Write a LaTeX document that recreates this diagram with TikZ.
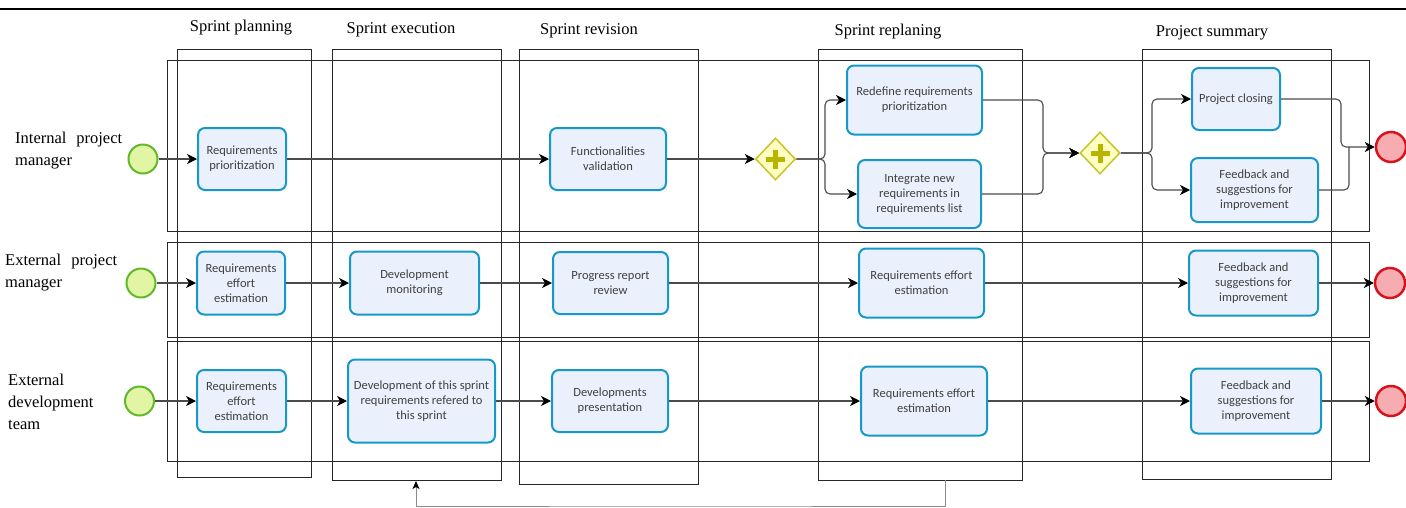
\documentclass[tikz,border=0pt]{standalone}
\usepackage{fontspec}
\setmainfont{Liberation Serif}
\newfontfamily\taskfont{Carlito}
\usetikzlibrary{arrows.meta,shapes.geometric}

\definecolor{taskline}{RGB}{22,152,200}
\definecolor{taskfill}{RGB}{234,241,252}
\definecolor{startline}{RGB}{95,185,40}
\definecolor{startfill}{RGB}{226,245,165}
\definecolor{endline}{RGB}{215,20,30}
\definecolor{endfill}{RGB}{246,172,176}
\definecolor{gateline}{RGB}{200,195,40}
\definecolor{gatefill}{RGB}{255,255,195}
\definecolor{gateplus}{RGB}{185,180,0}
\definecolor{flowline}{RGB}{75,75,75}

\tikzset{
  box/.style={draw=black!85, line width=0.9pt},
  phasetitle/.style={font=\fontsize{16.5}{20}\selectfont},
  lanelabel/.style={font=\fontsize{16.5}{22}\selectfont, align=left, inner sep=0pt, anchor=west},
  task/.style={draw=taskline, fill=taskfill, line width=2pt, rounded corners=7pt,
    align=center, inner sep=1pt, text=black!75,
    font={\taskfont\fontsize{12.5}{15}\selectfont}},
  startevent/.style={circle, draw=startline, fill=startfill, line width=2pt,
    minimum size=29pt, inner sep=0pt},
  endevent/.style={circle, draw=endline, fill=endfill, line width=2.5pt,
    minimum size=30pt, inner sep=0pt},
  gateway/.style={diamond, draw=gateline, fill=gatefill, line width=1.5pt,
    minimum width=40pt, minimum height=42pt, inner sep=0pt,
    path picture={
      \fill[gateplus] ([xshift=-9.5pt,yshift=-2.5pt]path picture bounding box.center) rectangle ++(19pt,5pt);
      \fill[gateplus] ([xshift=-2.5pt,yshift=-9.5pt]path picture bounding box.center) rectangle ++(5pt,19pt);
    }},
  flowplain/.style={draw=flowline, line width=1.1pt},
  flow/.style={flowplain, -{Stealth[length=10pt, width=10pt, inset=3pt, color=black]}},
  backflow/.style={draw=black!45, line width=1pt, -{Stealth[length=8pt, width=7pt, inset=2pt, color=black]}}
}

\begin{document}
\begin{tikzpicture}[x=1pt, y=-1pt]
\useasboundingbox (0,0) rectangle (1406,507);

% top rule
\draw[line width=2.5pt] (0,9) -- (1406,9);

% lanes
\draw[box] (167,60) rectangle (1369,231);
\draw[box] (167,242) rectangle (1369,337);
\draw[box] (167,341) rectangle (1369,461);

% phases
\draw[box] (177,49) rectangle (311,477);
\draw[box] (332,49) rectangle (501,480);
\draw[box] (519,49) rectangle (698,484);
\draw[box] (818,49) rectangle (1022,480);
\draw[box] (1142,49) rectangle (1331,479);

\node[phasetitle] (tplanning) at (241,28) {Sprint planning};
\node[phasetitle] (texecution) at (401,30) {Sprint execution};
\node[phasetitle] (trevision) at (589,31) {Sprint revision};
\node[phasetitle] (treplaning) at (888,32) {Sprint replaning};
\node[phasetitle] (tsummary) at (1212,33) {Project summary};

\node[lanelabel, text width=107pt] (lint) at (15,151) {Internal\hfill project\\manager};
\node[lanelabel, text width=112pt] (lext) at (5,273) {External\hfill project\\manager};
\node[lanelabel] (ldev) at (8,402) {External\\development\\team};

% internal project manager
\node[startevent] (start1) at (143,159) {};
\node[task, minimum width=88pt, minimum height=62pt] (reqprio) at (242,159) {Requirements\\prioritization};
\node[task, minimum width=116pt, minimum height=62pt] (funcval) at (608,159) {Functionalities\\validation};
\node[gateway] (gate1) at (775.5,159) {};
\node[task, minimum width=135pt, minimum height=69pt] (redefine) at (914.5,100) {Redefine requirements\\prioritization};
\node[task, minimum width=123pt, minimum height=68pt] (integrate) at (919.5,194) {Integrate new\\requirements in\\requirements list};
\node[gateway] (gate2) at (1100,153) {};
\node[task, minimum width=88pt, minimum height=62pt] (closing) at (1236,99) {Project closing};
\node[task, minimum width=127pt, minimum height=64pt] (feedint) at (1254.5,190) {Feedback and\\suggestions for\\improvement};
\node[endevent] (end1) at (1391,147) {};

% external project manager
\node[startevent] (start2) at (141,283) {};
\node[task, minimum width=88pt, minimum height=63pt] (effortext) at (241,283) {Requirements\\effort\\estimation};
\node[task, minimum width=129pt, minimum height=63pt] (monitoring) at (414.5,283) {Development\\monitoring};
\node[task, minimum width=115pt, minimum height=62pt] (progress) at (610.5,283) {Progress report\\review};
\node[task, minimum width=125pt, minimum height=69pt] (replanext) at (921.5,283) {Requirements effort\\estimation};
\node[task, minimum width=129pt, minimum height=65pt] (feedext) at (1253.5,283) {Feedback and\\suggestions for\\improvement};
\node[endevent] (end2) at (1390,283) {};

% external development team
\node[startevent] (start3) at (139.5,401) {};
\node[task, minimum width=89pt, minimum height=62pt] (effortdev) at (241.5,401) {Requirements\\effort\\estimation};
\node[task, minimum width=147pt, minimum height=83pt] (development) at (421.5,401) {Development of this sprint\\requirements refered to\\this sprint};
\node[task, minimum width=116pt, minimum height=62pt] (presentation) at (610,401) {Developments\\presentation};
\node[task, minimum width=126pt, minimum height=69pt] (replandev) at (924,401) {Requirements effort\\estimation};
\node[task, minimum width=130pt, minimum height=65pt] (feeddev) at (1256,401) {Feedback and\\suggestions for\\improvement};
\node[endevent] (end3) at (1391,401) {};

\draw
  (start1) edge[flow] (reqprio)
  (reqprio) edge[flow] (funcval)
  (funcval) edge[flow] (gate1)
  (start2) edge[flow] (effortext)
  (effortext) edge[flow] (monitoring)
  (monitoring) edge[flow] (progress)
  (progress) edge[flow] (replanext)
  (replanext) edge[flow] (feedext)
  (feedext) edge[flow] (end2)
  (start3) edge[flow] (effortdev)
  (effortdev) edge[flow] (development)
  (development) edge[flow] (presentation)
  (presentation) edge[flow] (replandev)
  (replandev) edge[flow] (feeddev)
  (feeddev) edge[flow] (end3);

% splits and joins
\coordinate (split1) at (825,159);
\coordinate (join1) at (1043,153);
\coordinate (split2) at (1152,153);
\coordinate (join2) at (1341,147);
\coordinate (join3) at (1349,147);
\draw[flow, rounded corners=5pt] (gate1) -- (split1) |- (redefine);
\draw[flow, rounded corners=5pt] (gate1) -- (split1) |- (integrate);
\draw[flow, rounded corners=5pt] (redefine) -| (join1) -- (gate2);
\draw[flow, rounded corners=5pt] (integrate) -| (join1) -- (gate2);
\draw[flow, rounded corners=5pt] (gate2) -- (split2) |- (closing);
\draw[flow, rounded corners=5pt] (gate2) -- (split2) |- (feedint);
\draw[flow, rounded corners=5pt] (closing) -| (join2) -- (end1);
\draw[flowplain, rounded corners=5pt] (feedint) -| (join3);

% back to execution
\coordinate (loopstart) at (945,480);
\coordinate (loopturn) at (680,506);
\coordinate (loopend) at (416,481);
\draw[backflow] (loopstart) |- (loopturn) -| (loopend);
\end{tikzpicture}
\end{document}
